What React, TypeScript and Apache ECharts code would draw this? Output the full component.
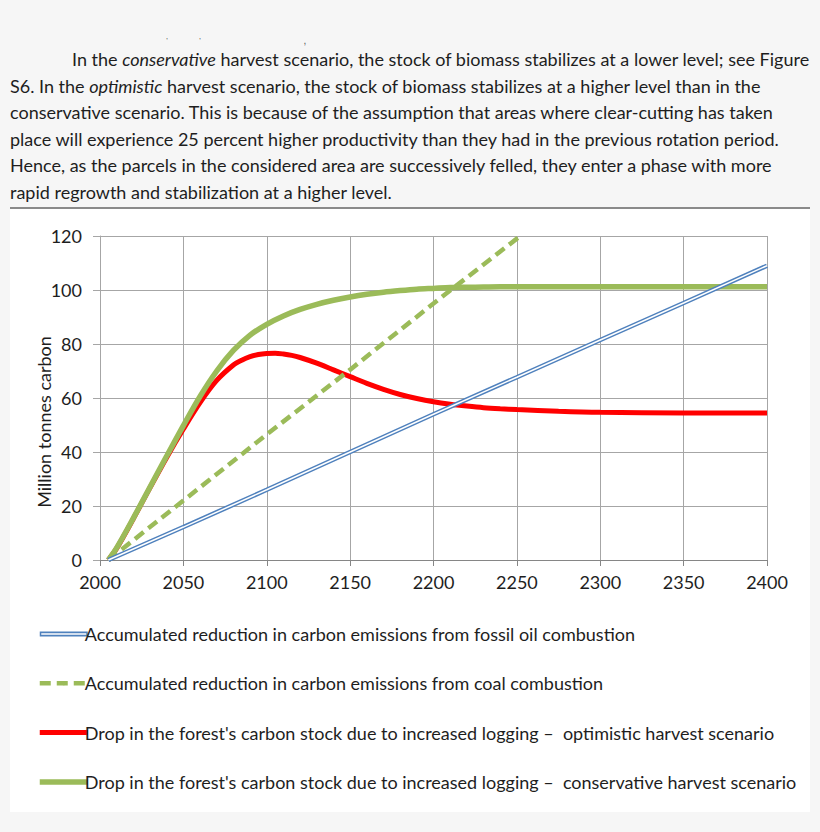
import React, { useEffect, useRef } from "react";
import * as echarts from "echarts";

const FONT = "Lato, 'Open Sans', sans-serif";

const paragraphLines = [
  "In the {i|conservative} harvest scenario, the stock of biomass stabilizes at a lower level; see Figure",
  "S6. In the {i|optimistic} harvest scenario, the stock of biomass stabilizes at a higher level than in the",
  "conservative scenario. This is because of the assumption that areas where clear-cutting has taken",
  "place will experience 25 percent higher productivity than they had in the previous rotation period.",
  "Hence, as the parcels in the considered area are successively felled, they enter a phase with more",
  "rapid regrowth and stabilization at a higher level.",
];

const yAxisTitle = "Million tonnes carbon";

const oilName = "Accumulated reduction in carbon emissions from fossil oil combustion";
const coalName = "Accumulated reduction in carbon emissions from coal combustion";
const optName = "Drop in the forest's carbon stock due to increased logging \u2013  optimistic harvest scenario";
const consName = "Drop in the forest's carbon stock due to increased logging \u2013  conservative harvest scenario";

const oilYears = [2005, 2050, 2100, 2150, 2200, 2250, 2300, 2350, 2400];
const oilValues = [0, 12.2, 26, 40, 54, 67.7, 81.5, 95.2, 109];

const coalYears = [2005, 2050, 2100, 2150, 2200, 2252];
const coalValues = [0, 22, 46.5, 70.5, 95, 120];

const optimisticYears = [
  2005, 2010, 2020, 2030, 2040, 2050, 2060, 2070, 2080, 2085, 2090, 2095, 2100, 2105, 2110,
  2115, 2120, 2130, 2140, 2150, 2160, 2170, 2180, 2190, 2200, 2210, 2220, 2230, 2240, 2250,
  2275, 2300, 2350, 2400,
];
const optimisticValues = [
  0, 4.3, 15.3, 26.8, 38, 48.5, 58.3, 66.5, 72.2, 74, 75.3, 76.1, 76.5, 76.6, 76.3,
  75.8, 75, 72.9, 70.4, 67.9, 65.4, 63.2, 61.3, 59.8, 58.6, 57.7, 57, 56.4, 56, 55.7,
  55.1, 54.7, 54.4, 54.4,
];

const conservativeYears = [
  2005, 2010, 2020, 2030, 2040, 2050, 2060, 2070, 2080, 2090, 2100, 2110, 2120, 2130, 2140,
  2150, 2160, 2170, 2180, 2190, 2200, 2210, 2220, 2230, 2240, 2250, 2275, 2300, 2350, 2400,
];
const conservativeValues = [
  0, 4.5, 15.5, 27, 38.5, 49.8, 60.6, 70, 77.6, 83.3, 87.3, 90.4, 92.8, 94.7, 96.2,
  97.4, 98.4, 99.2, 99.8, 100.3, 100.6, 100.9, 101, 101.1, 101.2, 101.2, 101.2, 101.2, 101.2, 101.2,
];

const xTicks = { min: 2000, max: 2400, interval: 50 };
const yTicks = { min: 0, max: 120, interval: 20 };

const pair = (xs: number[], ys: number[]) => xs.map((x, i) => [x, ys[i]]);

const BLUE = "#4f81bd";
const GREEN = "#9bbb59";
const RED = "#ff0000";
const TEXT = "#1e1e1e";
const FS = 18;

export default function App() {
  const ref = useRef<HTMLDivElement>(null);
  useEffect(() => {
    const chart = echarts.init(ref.current!, null, { renderer: "svg" });
    const paraGraphics = paragraphLines.map((line, i) => ({
      type: "text",
      x: i === 0 ? 72 : 10,
      y: 59 + i * 26.5,
      style: {
        text: line,
        fontFamily: FONT,
        fontSize: FS,
        fill: TEXT,
        verticalAlign: "middle",
        align: "left",
        rich: {
          i: { fontStyle: "italic", fontFamily: FONT, fontSize: FS, fill: TEXT },
        },
      },
    }));
    const option: any = {
      animation: false,
      backgroundColor: "#f6f6f6",
      graphic: [
        { type: "rect", z: -10, shape: { x: 10, y: 209, width: 800, height: 603 }, style: { fill: "#ffffff" } },
        { type: "line", shape: { x1: 10, y1: 208, x2: 810, y2: 208 }, style: { stroke: "#8a8a8a", lineWidth: 2 } },
        { type: "text", x: 167, y: 40, style: { text: "'", fontSize: 8, fill: "#555", align: "center", verticalAlign: "middle" } },
        { type: "text", x: 200, y: 40, style: { text: "'", fontSize: 8, fill: "#555", align: "center", verticalAlign: "middle" } },
        { type: "text", x: 305, y: 40, style: { text: ",", fontSize: 10, fill: "#555", align: "center", verticalAlign: "middle" } },
        {
          type: "text",
          x: 44,
          y: 422,
          rotation: Math.PI / 2,
          style: { text: yAxisTitle, fontFamily: FONT, fontSize: FS, fill: TEXT, align: "center", verticalAlign: "middle" },
        },
        ...paraGraphics,
      ],
      grid: { left: 100, top: 236, right: 53, bottom: 272, containLabel: false },
      xAxis: {
        type: "value",
        min: xTicks.min,
        max: xTicks.max,
        interval: xTicks.interval,
        axisLine: { show: true, onZero: false, lineStyle: { color: "#868686", width: 1 } },
        axisTick: { show: true, length: 6, lineStyle: { color: "#868686" } },
        axisLabel: { margin: 13, fontSize: FS, fontFamily: FONT, color: TEXT, formatter: (v: number) => String(v) },
        splitLine: { show: true, lineStyle: { color: "#a6a6a6", width: 1 } },
      },
      yAxis: {
        type: "value",
        min: yTicks.min,
        max: yTicks.max,
        interval: yTicks.interval,
        axisLine: { show: true, lineStyle: { color: "#a6a6a6", width: 1 } },
        axisTick: { show: true, length: 7, lineStyle: { color: "#a6a6a6" } },
        axisLabel: { margin: 18, fontSize: FS, fontFamily: FONT, color: TEXT },
        splitLine: { show: true, lineStyle: { color: "#a6a6a6", width: 1 } },
      },
      legend: {
        orient: "vertical",
        left: 37,
        top: 623,
        padding: 0,
        itemWidth: 48,
        itemHeight: 5,
        itemGap: 27.3,
        selectedMode: false,
        lineStyle: { width: "inherit" },
        textStyle: { fontFamily: FONT, fontSize: FS, color: TEXT, lineHeight: 22, padding: [0, 0, 0, -8] },
        data: [
          { name: oilName, icon: "path://M0,0H48V5H0Z M1.5,1.7V3.3H46.5V1.7Z" },
          { name: coalName },
          { name: optName },
          { name: consName },
        ],
      },
      series: [
        {
          name: optName,
          type: "line",
          data: pair(optimisticYears, optimisticValues),
          smooth: 0.3,
          symbol: "none",
          color: RED,
          lineStyle: { color: RED, width: 5 },
        },
        {
          name: consName,
          type: "line",
          data: pair(conservativeYears, conservativeValues),
          smooth: 0.3,
          symbol: "none",
          color: GREEN,
          lineStyle: { color: GREEN, width: 5.5 },
        },
        {
          name: coalName,
          type: "line",
          data: pair(coalYears, coalValues),
          symbol: "none",
          color: GREEN,
          lineStyle: { color: GREEN, width: 4.5, type: [11, 6] },
        },
        {
          name: oilName,
          type: "line",
          data: pair(oilYears, oilValues),
          symbol: "none",
          color: BLUE,
          lineStyle: { color: BLUE, width: 4.5 },
        },
        {
          name: "oil-centre",
          type: "line",
          data: pair(oilYears, oilValues),
          symbol: "none",
          color: "#ffffff",
          lineStyle: { color: "#ffffff", width: 1.5 },
        },
      ],
    };
    chart.setOption(option);
    return () => chart.dispose();
  }, []);
  return (
    <div
      ref={ref}
      style={{ position: "absolute", left: 0, top: 0, width: 820, height: 832 }}
    />
  );
}
